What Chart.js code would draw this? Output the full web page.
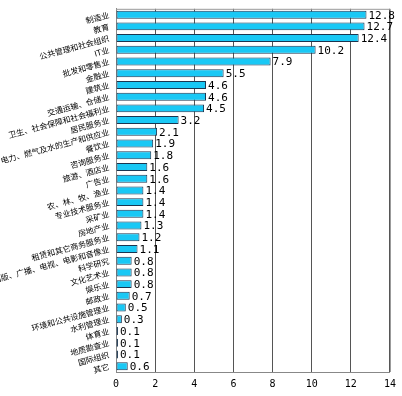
<!DOCTYPE html>
<html>
<head>
<meta charset="utf-8">
<script src="https://cdn.jsdelivr.net/npm/chart.js@4"></script>
<style>
  html, body { margin: 0; padding: 0; background: #fff; }
  #wrap { width: 402px; height: 396px; }
</style>
</head>
<body>
<div id="wrap"><canvas id="myBarChart" width="402" height="396"></canvas></div>
<script>
// Categories (top to bottom)
const categories = [
  "制造业", "教育", "公共管理和社会组织", "IT业", "批发和零售业",
  "金融业", "建筑业", "交通运输、仓储业", "卫生、社会保障和社会福利业", "居民服务业",
  "电力、燃气及水的生产和供应业", "餐饮业", "咨询服务业", "旅游、酒店业", "广告业",
  "农、林、牧、渔业", "专业技术服务业", "采矿业", "房地产业", "租赁和其它商务服务业",
  "新闻、出版、广播、电视、电影和音像业", "科学研究", "文化艺术业", "娱乐业", "邮政业",
  "环境和公共设施管理业", "水利管理业", "体育业", "地质勘查业", "国际组织",
  "其它"
];

// Percent values
const values = [
  12.8, 12.7, 12.4, 10.2, 7.9,
  5.5, 4.6, 4.6, 4.5, 3.2,
  2.1, 1.9, 1.8, 1.6, 1.6,
  1.4, 1.4, 1.4, 1.3, 1.2,
  1.1, 0.8, 0.8, 0.8, 0.7,
  0.5, 0.3, 0.1, 0.1, 0.1,
  0.6
];

const xTicks = [0, 2, 4, 6, 8, 10, 12, 14];

// Value labels at bar ends
const valueLabelPlugin = {
  id: "valueLabels",
  afterDatasetsDraw: (chart) => {
    const { ctx } = chart;
    const meta = chart.getDatasetMeta(0);
    ctx.save();
    ctx.font = "11px 'DejaVu Sans Mono', monospace";
    ctx.fillStyle = "#000";
    ctx.textAlign = "left";
    ctx.textBaseline = "middle";
    meta.data.forEach((bar, i) => {
      ctx.fillText(values[i].toFixed(1), bar.x + 2, bar.y + 1);
    });
    ctx.restore();
  },
};

// Gray frame round the plot area (top and right edges)
const framePlugin = {
  id: "frame",
  beforeDatasetsDraw: (chart) => {
    const { ctx, chartArea } = chart;
    ctx.save();
    ctx.strokeStyle = "#999";
    ctx.lineWidth = 1;
    ctx.beginPath();
    ctx.moveTo(chartArea.left, chartArea.top + 0.5);
    ctx.lineTo(chartArea.right + 0.5, chartArea.top + 0.5);
    ctx.lineTo(chartArea.right + 0.5, chartArea.bottom);
    ctx.stroke();
    ctx.restore();
  },
};

const ctx = document.getElementById("myBarChart").getContext("2d");

const myBarChart = new Chart(ctx, {
  type: "bar",
  data: {
    labels: categories,
    datasets: [
      {
        data: values,
        backgroundColor: "#19c8f5",
        borderColor: "#1b3550",
        borderWidth: 1,
        borderSkipped: false,
        barPercentage: 0.68,
        categoryPercentage: 1.0,
      },
    ],
  },
  options: {
    indexAxis: "y",
    responsive: false,
    animation: false,
    layout: { padding: { top: 5, right: 5, left: 0, bottom: 0 } },
    plugins: {
      legend: { display: false },
      tooltip: { enabled: false },
    },
    scales: {
      x: {
        min: 0,
        max: 14,
        afterBuildTicks: (scale) => {
          scale.ticks = xTicks.map((v) => ({ value: v }));
        },
        grid: {
          color: "#555",
          lineWidth: 1,
          drawTicks: false,
        },
        border: { color: "#888" },
        ticks: {
          color: "#000",
          padding: 6,
          font: { family: "'DejaVu Sans Mono', monospace", size: 10 },
        },
        afterFit: (scale) => {
          scale.height = 24;
        },
      },
      y: {
        grid: { display: false, drawTicks: true, tickLength: 3 },
        border: { color: "#888" },
        ticks: {
          color: "#000",
          autoSkip: false,
          minRotation: 15,
          maxRotation: 15,
          padding: 4,
          font: { family: "'Noto Sans CJK SC', sans-serif", size: 8 },
        },
        afterFit: (scale) => {
          scale.width = 116;
        },
      },
    },
  },
  plugins: [framePlugin, valueLabelPlugin],
});
</script>
</body>
</html>
